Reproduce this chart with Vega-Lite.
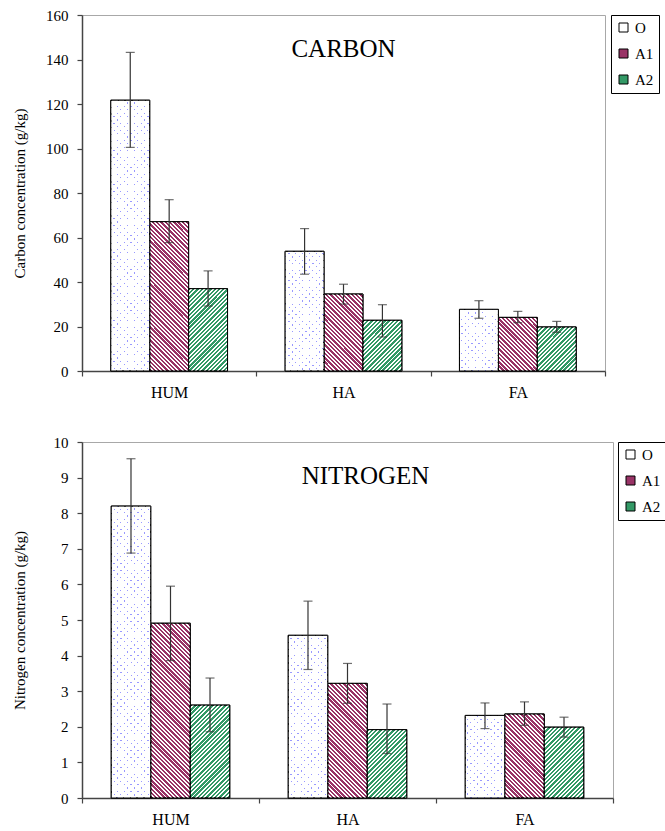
{
  "$schema": "https://vega.github.io/schema/vega-lite/v6.json",
  "background": "white",
  "padding": {"left": 11, "top": 7, "right": 0, "bottom": 0},
  "spacing": 33,
  "params": [
    {"name": "hatch", "value": [
      {"offset":0,"color":"#fff0"},{"offset":0.011,"color":"#fff0"},{"offset":0.011,"color":"#fff"},{"offset":0.02,"color":"#fff"},
      {"offset":0.02,"color":"#fff0"},{"offset":0.031,"color":"#fff0"},{"offset":0.031,"color":"#fff"},{"offset":0.04,"color":"#fff"},
      {"offset":0.04,"color":"#fff0"},{"offset":0.051,"color":"#fff0"},{"offset":0.051,"color":"#fff"},{"offset":0.06,"color":"#fff"},
      {"offset":0.06,"color":"#fff0"},{"offset":0.071,"color":"#fff0"},{"offset":0.071,"color":"#fff"},{"offset":0.08,"color":"#fff"},
      {"offset":0.08,"color":"#fff0"},{"offset":0.091,"color":"#fff0"},{"offset":0.091,"color":"#fff"},{"offset":0.1,"color":"#fff"},
      {"offset":0.1,"color":"#fff0"},{"offset":0.111,"color":"#fff0"},{"offset":0.111,"color":"#fff"},{"offset":0.12,"color":"#fff"},
      {"offset":0.12,"color":"#fff0"},{"offset":0.131,"color":"#fff0"},{"offset":0.131,"color":"#fff"},{"offset":0.14,"color":"#fff"},
      {"offset":0.14,"color":"#fff0"},{"offset":0.151,"color":"#fff0"},{"offset":0.151,"color":"#fff"},{"offset":0.16,"color":"#fff"},
      {"offset":0.16,"color":"#fff0"},{"offset":0.171,"color":"#fff0"},{"offset":0.171,"color":"#fff"},{"offset":0.18,"color":"#fff"},
      {"offset":0.18,"color":"#fff0"},{"offset":0.191,"color":"#fff0"},{"offset":0.191,"color":"#fff"},{"offset":0.2,"color":"#fff"},
      {"offset":0.2,"color":"#fff0"},{"offset":0.211,"color":"#fff0"},{"offset":0.211,"color":"#fff"},{"offset":0.22,"color":"#fff"},
      {"offset":0.22,"color":"#fff0"},{"offset":0.231,"color":"#fff0"},{"offset":0.231,"color":"#fff"},{"offset":0.24,"color":"#fff"},
      {"offset":0.24,"color":"#fff0"},{"offset":0.251,"color":"#fff0"},{"offset":0.251,"color":"#fff"},{"offset":0.26,"color":"#fff"},
      {"offset":0.26,"color":"#fff0"},{"offset":0.271,"color":"#fff0"},{"offset":0.271,"color":"#fff"},{"offset":0.28,"color":"#fff"},
      {"offset":0.28,"color":"#fff0"},{"offset":0.291,"color":"#fff0"},{"offset":0.291,"color":"#fff"},{"offset":0.3,"color":"#fff"},
      {"offset":0.3,"color":"#fff0"},{"offset":0.311,"color":"#fff0"},{"offset":0.311,"color":"#fff"},{"offset":0.32,"color":"#fff"},
      {"offset":0.32,"color":"#fff0"},{"offset":0.331,"color":"#fff0"},{"offset":0.331,"color":"#fff"},{"offset":0.34,"color":"#fff"},
      {"offset":0.34,"color":"#fff0"},{"offset":0.351,"color":"#fff0"},{"offset":0.351,"color":"#fff"},{"offset":0.36,"color":"#fff"},
      {"offset":0.36,"color":"#fff0"},{"offset":0.371,"color":"#fff0"},{"offset":0.371,"color":"#fff"},{"offset":0.38,"color":"#fff"},
      {"offset":0.38,"color":"#fff0"},{"offset":0.391,"color":"#fff0"},{"offset":0.391,"color":"#fff"},{"offset":0.4,"color":"#fff"},
      {"offset":0.4,"color":"#fff0"},{"offset":0.411,"color":"#fff0"},{"offset":0.411,"color":"#fff"},{"offset":0.42,"color":"#fff"},
      {"offset":0.42,"color":"#fff0"},{"offset":0.431,"color":"#fff0"},{"offset":0.431,"color":"#fff"},{"offset":0.44,"color":"#fff"},
      {"offset":0.44,"color":"#fff0"},{"offset":0.451,"color":"#fff0"},{"offset":0.451,"color":"#fff"},{"offset":0.46,"color":"#fff"},
      {"offset":0.46,"color":"#fff0"},{"offset":0.471,"color":"#fff0"},{"offset":0.471,"color":"#fff"},{"offset":0.48,"color":"#fff"},
      {"offset":0.48,"color":"#fff0"},{"offset":0.491,"color":"#fff0"},{"offset":0.491,"color":"#fff"},{"offset":0.5,"color":"#fff"},
      {"offset":0.5,"color":"#fff0"},{"offset":0.511,"color":"#fff0"},{"offset":0.511,"color":"#fff"},{"offset":0.52,"color":"#fff"},
      {"offset":0.52,"color":"#fff0"},{"offset":0.531,"color":"#fff0"},{"offset":0.531,"color":"#fff"},{"offset":0.54,"color":"#fff"},
      {"offset":0.54,"color":"#fff0"},{"offset":0.551,"color":"#fff0"},{"offset":0.551,"color":"#fff"},{"offset":0.56,"color":"#fff"},
      {"offset":0.56,"color":"#fff0"},{"offset":0.571,"color":"#fff0"},{"offset":0.571,"color":"#fff"},{"offset":0.58,"color":"#fff"},
      {"offset":0.58,"color":"#fff0"},{"offset":0.591,"color":"#fff0"},{"offset":0.591,"color":"#fff"},{"offset":0.6,"color":"#fff"},
      {"offset":0.6,"color":"#fff0"},{"offset":0.611,"color":"#fff0"},{"offset":0.611,"color":"#fff"},{"offset":0.62,"color":"#fff"},
      {"offset":0.62,"color":"#fff0"},{"offset":0.631,"color":"#fff0"},{"offset":0.631,"color":"#fff"},{"offset":0.64,"color":"#fff"},
      {"offset":0.64,"color":"#fff0"},{"offset":0.651,"color":"#fff0"},{"offset":0.651,"color":"#fff"},{"offset":0.66,"color":"#fff"},
      {"offset":0.66,"color":"#fff0"},{"offset":0.671,"color":"#fff0"},{"offset":0.671,"color":"#fff"},{"offset":0.68,"color":"#fff"},
      {"offset":0.68,"color":"#fff0"},{"offset":0.691,"color":"#fff0"},{"offset":0.691,"color":"#fff"},{"offset":0.7,"color":"#fff"},
      {"offset":0.7,"color":"#fff0"},{"offset":0.711,"color":"#fff0"},{"offset":0.711,"color":"#fff"},{"offset":0.72,"color":"#fff"},
      {"offset":0.72,"color":"#fff0"},{"offset":0.731,"color":"#fff0"},{"offset":0.731,"color":"#fff"},{"offset":0.74,"color":"#fff"},
      {"offset":0.74,"color":"#fff0"},{"offset":0.751,"color":"#fff0"},{"offset":0.751,"color":"#fff"},{"offset":0.76,"color":"#fff"},
      {"offset":0.76,"color":"#fff0"},{"offset":0.771,"color":"#fff0"},{"offset":0.771,"color":"#fff"},{"offset":0.78,"color":"#fff"},
      {"offset":0.78,"color":"#fff0"},{"offset":0.791,"color":"#fff0"},{"offset":0.791,"color":"#fff"},{"offset":0.8,"color":"#fff"},
      {"offset":0.8,"color":"#fff0"},{"offset":0.811,"color":"#fff0"},{"offset":0.811,"color":"#fff"},{"offset":0.82,"color":"#fff"},
      {"offset":0.82,"color":"#fff0"},{"offset":0.831,"color":"#fff0"},{"offset":0.831,"color":"#fff"},{"offset":0.84,"color":"#fff"},
      {"offset":0.84,"color":"#fff0"},{"offset":0.851,"color":"#fff0"},{"offset":0.851,"color":"#fff"},{"offset":0.86,"color":"#fff"},
      {"offset":0.86,"color":"#fff0"},{"offset":0.871,"color":"#fff0"},{"offset":0.871,"color":"#fff"},{"offset":0.88,"color":"#fff"},
      {"offset":0.88,"color":"#fff0"},{"offset":0.891,"color":"#fff0"},{"offset":0.891,"color":"#fff"},{"offset":0.9,"color":"#fff"},
      {"offset":0.9,"color":"#fff0"},{"offset":0.911,"color":"#fff0"},{"offset":0.911,"color":"#fff"},{"offset":0.92,"color":"#fff"},
      {"offset":0.92,"color":"#fff0"},{"offset":0.931,"color":"#fff0"},{"offset":0.931,"color":"#fff"},{"offset":0.94,"color":"#fff"},
      {"offset":0.94,"color":"#fff0"},{"offset":0.951,"color":"#fff0"},{"offset":0.951,"color":"#fff"},{"offset":0.96,"color":"#fff"},
      {"offset":0.96,"color":"#fff0"},{"offset":0.971,"color":"#fff0"},{"offset":0.971,"color":"#fff"},{"offset":0.98,"color":"#fff"},
      {"offset":0.98,"color":"#fff0"},{"offset":0.991,"color":"#fff0"},{"offset":0.991,"color":"#fff"},{"offset":1,"color":"#fff"}
    ]},
    {"name": "dotLines", "value": [
      {"offset":0,"color":"#fff0"},{"offset":0.0155,"color":"#fff0"},{"offset":0.0155,"color":"#99f"},{"offset":0.02,"color":"#99f"},
      {"offset":0.02,"color":"#fff0"},{"offset":0.0355,"color":"#fff0"},{"offset":0.0355,"color":"#99f"},{"offset":0.04,"color":"#99f"},
      {"offset":0.04,"color":"#fff0"},{"offset":0.0555,"color":"#fff0"},{"offset":0.0555,"color":"#99f"},{"offset":0.06,"color":"#99f"},
      {"offset":0.06,"color":"#fff0"},{"offset":0.0755,"color":"#fff0"},{"offset":0.0755,"color":"#99f"},{"offset":0.08,"color":"#99f"},
      {"offset":0.08,"color":"#fff0"},{"offset":0.0955,"color":"#fff0"},{"offset":0.0955,"color":"#99f"},{"offset":0.1,"color":"#99f"},
      {"offset":0.1,"color":"#fff0"},{"offset":0.1155,"color":"#fff0"},{"offset":0.1155,"color":"#99f"},{"offset":0.12,"color":"#99f"},
      {"offset":0.12,"color":"#fff0"},{"offset":0.1355,"color":"#fff0"},{"offset":0.1355,"color":"#99f"},{"offset":0.14,"color":"#99f"},
      {"offset":0.14,"color":"#fff0"},{"offset":0.1555,"color":"#fff0"},{"offset":0.1555,"color":"#99f"},{"offset":0.16,"color":"#99f"},
      {"offset":0.16,"color":"#fff0"},{"offset":0.1755,"color":"#fff0"},{"offset":0.1755,"color":"#99f"},{"offset":0.18,"color":"#99f"},
      {"offset":0.18,"color":"#fff0"},{"offset":0.1955,"color":"#fff0"},{"offset":0.1955,"color":"#99f"},{"offset":0.2,"color":"#99f"},
      {"offset":0.2,"color":"#fff0"},{"offset":0.2155,"color":"#fff0"},{"offset":0.2155,"color":"#99f"},{"offset":0.22,"color":"#99f"},
      {"offset":0.22,"color":"#fff0"},{"offset":0.2355,"color":"#fff0"},{"offset":0.2355,"color":"#99f"},{"offset":0.24,"color":"#99f"},
      {"offset":0.24,"color":"#fff0"},{"offset":0.2555,"color":"#fff0"},{"offset":0.2555,"color":"#99f"},{"offset":0.26,"color":"#99f"},
      {"offset":0.26,"color":"#fff0"},{"offset":0.2755,"color":"#fff0"},{"offset":0.2755,"color":"#99f"},{"offset":0.28,"color":"#99f"},
      {"offset":0.28,"color":"#fff0"},{"offset":0.2955,"color":"#fff0"},{"offset":0.2955,"color":"#99f"},{"offset":0.3,"color":"#99f"},
      {"offset":0.3,"color":"#fff0"},{"offset":0.3155,"color":"#fff0"},{"offset":0.3155,"color":"#99f"},{"offset":0.32,"color":"#99f"},
      {"offset":0.32,"color":"#fff0"},{"offset":0.3355,"color":"#fff0"},{"offset":0.3355,"color":"#99f"},{"offset":0.34,"color":"#99f"},
      {"offset":0.34,"color":"#fff0"},{"offset":0.3555,"color":"#fff0"},{"offset":0.3555,"color":"#99f"},{"offset":0.36,"color":"#99f"},
      {"offset":0.36,"color":"#fff0"},{"offset":0.3755,"color":"#fff0"},{"offset":0.3755,"color":"#99f"},{"offset":0.38,"color":"#99f"},
      {"offset":0.38,"color":"#fff0"},{"offset":0.3955,"color":"#fff0"},{"offset":0.3955,"color":"#99f"},{"offset":0.4,"color":"#99f"},
      {"offset":0.4,"color":"#fff0"},{"offset":0.4155,"color":"#fff0"},{"offset":0.4155,"color":"#99f"},{"offset":0.42,"color":"#99f"},
      {"offset":0.42,"color":"#fff0"},{"offset":0.4355,"color":"#fff0"},{"offset":0.4355,"color":"#99f"},{"offset":0.44,"color":"#99f"},
      {"offset":0.44,"color":"#fff0"},{"offset":0.4555,"color":"#fff0"},{"offset":0.4555,"color":"#99f"},{"offset":0.46,"color":"#99f"},
      {"offset":0.46,"color":"#fff0"},{"offset":0.4755,"color":"#fff0"},{"offset":0.4755,"color":"#99f"},{"offset":0.48,"color":"#99f"},
      {"offset":0.48,"color":"#fff0"},{"offset":0.4955,"color":"#fff0"},{"offset":0.4955,"color":"#99f"},{"offset":0.5,"color":"#99f"},
      {"offset":0.5,"color":"#fff0"},{"offset":0.5155,"color":"#fff0"},{"offset":0.5155,"color":"#99f"},{"offset":0.52,"color":"#99f"},
      {"offset":0.52,"color":"#fff0"},{"offset":0.5355,"color":"#fff0"},{"offset":0.5355,"color":"#99f"},{"offset":0.54,"color":"#99f"},
      {"offset":0.54,"color":"#fff0"},{"offset":0.5555,"color":"#fff0"},{"offset":0.5555,"color":"#99f"},{"offset":0.56,"color":"#99f"},
      {"offset":0.56,"color":"#fff0"},{"offset":0.5755,"color":"#fff0"},{"offset":0.5755,"color":"#99f"},{"offset":0.58,"color":"#99f"},
      {"offset":0.58,"color":"#fff0"},{"offset":0.5955,"color":"#fff0"},{"offset":0.5955,"color":"#99f"},{"offset":0.6,"color":"#99f"},
      {"offset":0.6,"color":"#fff0"},{"offset":0.6155,"color":"#fff0"},{"offset":0.6155,"color":"#99f"},{"offset":0.62,"color":"#99f"},
      {"offset":0.62,"color":"#fff0"},{"offset":0.6355,"color":"#fff0"},{"offset":0.6355,"color":"#99f"},{"offset":0.64,"color":"#99f"},
      {"offset":0.64,"color":"#fff0"},{"offset":0.6555,"color":"#fff0"},{"offset":0.6555,"color":"#99f"},{"offset":0.66,"color":"#99f"},
      {"offset":0.66,"color":"#fff0"},{"offset":0.6755,"color":"#fff0"},{"offset":0.6755,"color":"#99f"},{"offset":0.68,"color":"#99f"},
      {"offset":0.68,"color":"#fff0"},{"offset":0.6955,"color":"#fff0"},{"offset":0.6955,"color":"#99f"},{"offset":0.7,"color":"#99f"},
      {"offset":0.7,"color":"#fff0"},{"offset":0.7155,"color":"#fff0"},{"offset":0.7155,"color":"#99f"},{"offset":0.72,"color":"#99f"},
      {"offset":0.72,"color":"#fff0"},{"offset":0.7355,"color":"#fff0"},{"offset":0.7355,"color":"#99f"},{"offset":0.74,"color":"#99f"},
      {"offset":0.74,"color":"#fff0"},{"offset":0.7555,"color":"#fff0"},{"offset":0.7555,"color":"#99f"},{"offset":0.76,"color":"#99f"},
      {"offset":0.76,"color":"#fff0"},{"offset":0.7755,"color":"#fff0"},{"offset":0.7755,"color":"#99f"},{"offset":0.78,"color":"#99f"},
      {"offset":0.78,"color":"#fff0"},{"offset":0.7955,"color":"#fff0"},{"offset":0.7955,"color":"#99f"},{"offset":0.8,"color":"#99f"},
      {"offset":0.8,"color":"#fff0"},{"offset":0.8155,"color":"#fff0"},{"offset":0.8155,"color":"#99f"},{"offset":0.82,"color":"#99f"},
      {"offset":0.82,"color":"#fff0"},{"offset":0.8355,"color":"#fff0"},{"offset":0.8355,"color":"#99f"},{"offset":0.84,"color":"#99f"},
      {"offset":0.84,"color":"#fff0"},{"offset":0.8555,"color":"#fff0"},{"offset":0.8555,"color":"#99f"},{"offset":0.86,"color":"#99f"},
      {"offset":0.86,"color":"#fff0"},{"offset":0.8755,"color":"#fff0"},{"offset":0.8755,"color":"#99f"},{"offset":0.88,"color":"#99f"},
      {"offset":0.88,"color":"#fff0"},{"offset":0.8955,"color":"#fff0"},{"offset":0.8955,"color":"#99f"},{"offset":0.9,"color":"#99f"},
      {"offset":0.9,"color":"#fff0"},{"offset":0.9155,"color":"#fff0"},{"offset":0.9155,"color":"#99f"},{"offset":0.92,"color":"#99f"},
      {"offset":0.92,"color":"#fff0"},{"offset":0.9355,"color":"#fff0"},{"offset":0.9355,"color":"#99f"},{"offset":0.94,"color":"#99f"},
      {"offset":0.94,"color":"#fff0"},{"offset":0.9555,"color":"#fff0"},{"offset":0.9555,"color":"#99f"},{"offset":0.96,"color":"#99f"},
      {"offset":0.96,"color":"#fff0"},{"offset":0.9755,"color":"#fff0"},{"offset":0.9755,"color":"#99f"},{"offset":0.98,"color":"#99f"},
      {"offset":0.98,"color":"#fff0"},{"offset":0.9955,"color":"#fff0"},{"offset":0.9955,"color":"#99f"},{"offset":1,"color":"#99f"}
    ]},
    {"name": "dotMask", "value": [
      {"offset":0,"color":"#fff"},{"offset":0.0155,"color":"#fff"},{"offset":0.0155,"color":"#fff0"},{"offset":0.02,"color":"#fff0"},
      {"offset":0.02,"color":"#fff"},{"offset":0.0355,"color":"#fff"},{"offset":0.0355,"color":"#fff0"},{"offset":0.04,"color":"#fff0"},
      {"offset":0.04,"color":"#fff"},{"offset":0.0555,"color":"#fff"},{"offset":0.0555,"color":"#fff0"},{"offset":0.06,"color":"#fff0"},
      {"offset":0.06,"color":"#fff"},{"offset":0.0755,"color":"#fff"},{"offset":0.0755,"color":"#fff0"},{"offset":0.08,"color":"#fff0"},
      {"offset":0.08,"color":"#fff"},{"offset":0.0955,"color":"#fff"},{"offset":0.0955,"color":"#fff0"},{"offset":0.1,"color":"#fff0"},
      {"offset":0.1,"color":"#fff"},{"offset":0.1155,"color":"#fff"},{"offset":0.1155,"color":"#fff0"},{"offset":0.12,"color":"#fff0"},
      {"offset":0.12,"color":"#fff"},{"offset":0.1355,"color":"#fff"},{"offset":0.1355,"color":"#fff0"},{"offset":0.14,"color":"#fff0"},
      {"offset":0.14,"color":"#fff"},{"offset":0.1555,"color":"#fff"},{"offset":0.1555,"color":"#fff0"},{"offset":0.16,"color":"#fff0"},
      {"offset":0.16,"color":"#fff"},{"offset":0.1755,"color":"#fff"},{"offset":0.1755,"color":"#fff0"},{"offset":0.18,"color":"#fff0"},
      {"offset":0.18,"color":"#fff"},{"offset":0.1955,"color":"#fff"},{"offset":0.1955,"color":"#fff0"},{"offset":0.2,"color":"#fff0"},
      {"offset":0.2,"color":"#fff"},{"offset":0.2155,"color":"#fff"},{"offset":0.2155,"color":"#fff0"},{"offset":0.22,"color":"#fff0"},
      {"offset":0.22,"color":"#fff"},{"offset":0.2355,"color":"#fff"},{"offset":0.2355,"color":"#fff0"},{"offset":0.24,"color":"#fff0"},
      {"offset":0.24,"color":"#fff"},{"offset":0.2555,"color":"#fff"},{"offset":0.2555,"color":"#fff0"},{"offset":0.26,"color":"#fff0"},
      {"offset":0.26,"color":"#fff"},{"offset":0.2755,"color":"#fff"},{"offset":0.2755,"color":"#fff0"},{"offset":0.28,"color":"#fff0"},
      {"offset":0.28,"color":"#fff"},{"offset":0.2955,"color":"#fff"},{"offset":0.2955,"color":"#fff0"},{"offset":0.3,"color":"#fff0"},
      {"offset":0.3,"color":"#fff"},{"offset":0.3155,"color":"#fff"},{"offset":0.3155,"color":"#fff0"},{"offset":0.32,"color":"#fff0"},
      {"offset":0.32,"color":"#fff"},{"offset":0.3355,"color":"#fff"},{"offset":0.3355,"color":"#fff0"},{"offset":0.34,"color":"#fff0"},
      {"offset":0.34,"color":"#fff"},{"offset":0.3555,"color":"#fff"},{"offset":0.3555,"color":"#fff0"},{"offset":0.36,"color":"#fff0"},
      {"offset":0.36,"color":"#fff"},{"offset":0.3755,"color":"#fff"},{"offset":0.3755,"color":"#fff0"},{"offset":0.38,"color":"#fff0"},
      {"offset":0.38,"color":"#fff"},{"offset":0.3955,"color":"#fff"},{"offset":0.3955,"color":"#fff0"},{"offset":0.4,"color":"#fff0"},
      {"offset":0.4,"color":"#fff"},{"offset":0.4155,"color":"#fff"},{"offset":0.4155,"color":"#fff0"},{"offset":0.42,"color":"#fff0"},
      {"offset":0.42,"color":"#fff"},{"offset":0.4355,"color":"#fff"},{"offset":0.4355,"color":"#fff0"},{"offset":0.44,"color":"#fff0"},
      {"offset":0.44,"color":"#fff"},{"offset":0.4555,"color":"#fff"},{"offset":0.4555,"color":"#fff0"},{"offset":0.46,"color":"#fff0"},
      {"offset":0.46,"color":"#fff"},{"offset":0.4755,"color":"#fff"},{"offset":0.4755,"color":"#fff0"},{"offset":0.48,"color":"#fff0"},
      {"offset":0.48,"color":"#fff"},{"offset":0.4955,"color":"#fff"},{"offset":0.4955,"color":"#fff0"},{"offset":0.5,"color":"#fff0"},
      {"offset":0.5,"color":"#fff"},{"offset":0.5155,"color":"#fff"},{"offset":0.5155,"color":"#fff0"},{"offset":0.52,"color":"#fff0"},
      {"offset":0.52,"color":"#fff"},{"offset":0.5355,"color":"#fff"},{"offset":0.5355,"color":"#fff0"},{"offset":0.54,"color":"#fff0"},
      {"offset":0.54,"color":"#fff"},{"offset":0.5555,"color":"#fff"},{"offset":0.5555,"color":"#fff0"},{"offset":0.56,"color":"#fff0"},
      {"offset":0.56,"color":"#fff"},{"offset":0.5755,"color":"#fff"},{"offset":0.5755,"color":"#fff0"},{"offset":0.58,"color":"#fff0"},
      {"offset":0.58,"color":"#fff"},{"offset":0.5955,"color":"#fff"},{"offset":0.5955,"color":"#fff0"},{"offset":0.6,"color":"#fff0"},
      {"offset":0.6,"color":"#fff"},{"offset":0.6155,"color":"#fff"},{"offset":0.6155,"color":"#fff0"},{"offset":0.62,"color":"#fff0"},
      {"offset":0.62,"color":"#fff"},{"offset":0.6355,"color":"#fff"},{"offset":0.6355,"color":"#fff0"},{"offset":0.64,"color":"#fff0"},
      {"offset":0.64,"color":"#fff"},{"offset":0.6555,"color":"#fff"},{"offset":0.6555,"color":"#fff0"},{"offset":0.66,"color":"#fff0"},
      {"offset":0.66,"color":"#fff"},{"offset":0.6755,"color":"#fff"},{"offset":0.6755,"color":"#fff0"},{"offset":0.68,"color":"#fff0"},
      {"offset":0.68,"color":"#fff"},{"offset":0.6955,"color":"#fff"},{"offset":0.6955,"color":"#fff0"},{"offset":0.7,"color":"#fff0"},
      {"offset":0.7,"color":"#fff"},{"offset":0.7155,"color":"#fff"},{"offset":0.7155,"color":"#fff0"},{"offset":0.72,"color":"#fff0"},
      {"offset":0.72,"color":"#fff"},{"offset":0.7355,"color":"#fff"},{"offset":0.7355,"color":"#fff0"},{"offset":0.74,"color":"#fff0"},
      {"offset":0.74,"color":"#fff"},{"offset":0.7555,"color":"#fff"},{"offset":0.7555,"color":"#fff0"},{"offset":0.76,"color":"#fff0"},
      {"offset":0.76,"color":"#fff"},{"offset":0.7755,"color":"#fff"},{"offset":0.7755,"color":"#fff0"},{"offset":0.78,"color":"#fff0"},
      {"offset":0.78,"color":"#fff"},{"offset":0.7955,"color":"#fff"},{"offset":0.7955,"color":"#fff0"},{"offset":0.8,"color":"#fff0"},
      {"offset":0.8,"color":"#fff"},{"offset":0.8155,"color":"#fff"},{"offset":0.8155,"color":"#fff0"},{"offset":0.82,"color":"#fff0"},
      {"offset":0.82,"color":"#fff"},{"offset":0.8355,"color":"#fff"},{"offset":0.8355,"color":"#fff0"},{"offset":0.84,"color":"#fff0"},
      {"offset":0.84,"color":"#fff"},{"offset":0.8555,"color":"#fff"},{"offset":0.8555,"color":"#fff0"},{"offset":0.86,"color":"#fff0"},
      {"offset":0.86,"color":"#fff"},{"offset":0.8755,"color":"#fff"},{"offset":0.8755,"color":"#fff0"},{"offset":0.88,"color":"#fff0"},
      {"offset":0.88,"color":"#fff"},{"offset":0.8955,"color":"#fff"},{"offset":0.8955,"color":"#fff0"},{"offset":0.9,"color":"#fff0"},
      {"offset":0.9,"color":"#fff"},{"offset":0.9155,"color":"#fff"},{"offset":0.9155,"color":"#fff0"},{"offset":0.92,"color":"#fff0"},
      {"offset":0.92,"color":"#fff"},{"offset":0.9355,"color":"#fff"},{"offset":0.9355,"color":"#fff0"},{"offset":0.94,"color":"#fff0"},
      {"offset":0.94,"color":"#fff"},{"offset":0.9555,"color":"#fff"},{"offset":0.9555,"color":"#fff0"},{"offset":0.96,"color":"#fff0"},
      {"offset":0.96,"color":"#fff"},{"offset":0.9755,"color":"#fff"},{"offset":0.9755,"color":"#fff0"},{"offset":0.98,"color":"#fff0"},
      {"offset":0.98,"color":"#fff"},{"offset":0.9955,"color":"#fff"},{"offset":0.9955,"color":"#fff0"},{"offset":1,"color":"#fff0"}
    ]},
    {"name": "legA1", "value": [
      {"offset":0,"color":"#936"},{"offset":0.14,"color":"#936"},{"offset":0.14,"color":"#fff"},{"offset":0.25,"color":"#fff"},
      {"offset":0.25,"color":"#936"},{"offset":0.39,"color":"#936"},{"offset":0.39,"color":"#fff"},{"offset":0.5,"color":"#fff"},
      {"offset":0.5,"color":"#936"},{"offset":0.64,"color":"#936"},{"offset":0.64,"color":"#fff"},{"offset":0.75,"color":"#fff"},
      {"offset":0.75,"color":"#936"},{"offset":0.89,"color":"#936"},{"offset":0.89,"color":"#fff"},{"offset":1,"color":"#fff"}
    ]},
    {"name": "legA2", "value": [
      {"offset":0,"color":"#396"},{"offset":0.14,"color":"#396"},{"offset":0.14,"color":"#fff"},{"offset":0.25,"color":"#fff"},
      {"offset":0.25,"color":"#396"},{"offset":0.39,"color":"#396"},{"offset":0.39,"color":"#fff"},{"offset":0.5,"color":"#fff"},
      {"offset":0.5,"color":"#396"},{"offset":0.64,"color":"#396"},{"offset":0.64,"color":"#fff"},{"offset":0.75,"color":"#fff"},
      {"offset":0.75,"color":"#396"},{"offset":0.89,"color":"#396"},{"offset":0.89,"color":"#fff"},{"offset":1,"color":"#fff"}
    ]}
  ],
  "datasets": {
    "carbon": [
      {"fraction": "HUM", "series": "O", "value": 121.7, "lo": 100.5, "hi": 143.2},
      {"fraction": "HUM", "series": "A1", "value": 67.1, "lo": 57.7, "hi": 77.0},
      {"fraction": "HUM", "series": "A2", "value": 37.0, "lo": 29.2, "hi": 45.0},
      {"fraction": "HA", "series": "O", "value": 53.8, "lo": 43.5, "hi": 64.0},
      {"fraction": "HA", "series": "A1", "value": 34.6, "lo": 30.1, "hi": 39.0},
      {"fraction": "HA", "series": "A2", "value": 22.8, "lo": 15.3, "hi": 29.8},
      {"fraction": "FA", "series": "O", "value": 27.7, "lo": 23.7, "hi": 31.6},
      {"fraction": "FA", "series": "A1", "value": 24.1, "lo": 21.7, "hi": 26.8},
      {"fraction": "FA", "series": "A2", "value": 19.8, "lo": 17.4, "hi": 22.3}
    ],
    "nitrogen": [
      {"fraction": "HUM", "series": "O", "value": 8.2, "lo": 6.88, "hi": 9.53},
      {"fraction": "HUM", "series": "A1", "value": 4.91, "lo": 3.86, "hi": 5.95},
      {"fraction": "HUM", "series": "A2", "value": 2.61, "lo": 1.86, "hi": 3.37},
      {"fraction": "HA", "series": "O", "value": 4.57, "lo": 3.61, "hi": 5.53},
      {"fraction": "HA", "series": "A1", "value": 3.22, "lo": 2.66, "hi": 3.78},
      {"fraction": "HA", "series": "A2", "value": 1.92, "lo": 1.25, "hi": 2.64},
      {"fraction": "FA", "series": "O", "value": 2.32, "lo": 1.95, "hi": 2.67},
      {"fraction": "FA", "series": "A1", "value": 2.36, "lo": 2.04, "hi": 2.7},
      {"fraction": "FA", "series": "A2", "value": 1.99, "lo": 1.71, "hi": 2.27}
    ]
  },
  "config": {
    "font": "Liberation Serif",
    "view": {"stroke": "#a8a8a8", "strokeWidth": 1},
    "axis": {
      "labelFont": "Liberation Serif", "titleFont": "Liberation Serif",
      "labelColor": "black", "titleColor": "black", "titleFontWeight": "normal",
      "domainColor": "#444", "tickColor": "#444", "domainWidth": 1.5, "tickWidth": 1.2,
      "grid": false, "tickSize": 5
    },
    "axisX": {"labelAngle": 0, "labelFontSize": 16, "labelPadding": 8, "tickBand": "extent"},
    "axisY": {"labelFontSize": 15, "labelPadding": 9, "titleFontSize": 15, "titleX": -63, "titleY": 178,
      "titleAngle": -90, "titleBaseline": "middle", "titleAlign": "center"},
    "legend": {
      "labelFont": "Liberation Serif", "labelFontSize": 15, "labelColor": "black",
      "strokeColor": "black", "padding": 5, "symbolType": "square", "symbolSize": 81,
      "symbolStrokeColor": "black", "symbolStrokeWidth": 1, "rowPadding": 10, "labelOffset": 4
    }
  },
  "resolve": {
    "scale": {"x": "independent", "y": "independent", "xOffset": "independent", "fill": "independent"},
    "axis": {"x": "independent", "y": "independent"},
    "legend": {"fill": "independent"}
  },
  "vconcat": [
    {
      "width": 523,
      "height": 356,
      "layer": [
        {
          "data": {"name": "carbon"},
          "encoding": {
            "x": {"field": "fraction", "type": "nominal", "sort": ["HUM", "HA", "FA"], "title": null, "scale": {"paddingInner": 0, "paddingOuter": 0}},
            "xOffset": {"field": "series", "type": "nominal", "sort": ["O", "A1", "A2"], "scale": {"paddingInner": 0, "paddingOuter": 0.74}}
          },
          "layer": [
            {
              "mark": {"type": "bar", "stroke": "black", "strokeWidth": 1},
              "encoding": {
                "y": {"field": "value", "type": "quantitative", "title": "Carbon concentration (g/kg)",
                  "scale": {"domain": [0, 160], "nice": false},
                  "axis": {"values": [0, 20, 40, 60, 80, 100, 120, 140, 160]}},
                "fill": {"field": "series", "type": "nominal", "sort": ["O", "A1", "A2"],
                  "scale": {"domain": ["O", "A1", "A2"], "range": ["#ffffff", "#993366", "#339966"]},
                  "legend": {"title": null, "offset": 6,
                    "encode": {"symbols": {"update": {
                      "fill": {"signal": "datum.value === 'A1' ? {gradient: 'linear', x1: 0, y1: 1, x2: 1, y2: 0, stops: legA1} : datum.value === 'A2' ? {gradient: 'linear', x1: 0, y1: 0, x2: 1, y2: 1, stops: legA2} : '#ffffff'"},
                      "stroke": {"value": "black"}, "strokeWidth": {"value": 1}, "opacity": {"value": 1}}}}}}
              }
            },
            {
              "transform": [{"filter": "datum.series !== 'O'"}],
              "mark": {"type": "bar", "stroke": "black", "strokeWidth": 1,
                "fill": {"expr": "{gradient: 'linear', x1: 0, y1: datum.series === 'A1' ? 1 : 0, x2: 215 * 39 / (1521 + pow(datum.value * 2.225, 2)), y2: datum.series === 'A1' ? 1 - 215 * datum.value * 2.225 / (1521 + pow(datum.value * 2.225, 2)) : 215 * datum.value * 2.225 / (1521 + pow(datum.value * 2.225, 2)), stops: hatch}"}},
              "encoding": {"y": {"field": "value", "type": "quantitative", "title": "Carbon concentration (g/kg)",
                "axis": {"values": [0, 20, 40, 60, 80, 100, 120, 140, 160]}}}
            },
            {
              "transform": [{"filter": "datum.series === 'O'"}],
              "mark": {"type": "bar", "strokeWidth": 0,
                "fill": {"expr": "{gradient: 'linear', x1: 0, y1: 0, x2: 340 * 39 / (1521 + pow(datum.value * 2.225, 2)), y2: 340 * datum.value * 2.225 / (1521 + pow(datum.value * 2.225, 2)), stops: dotLines}"}},
              "encoding": {"y": {"field": "value", "type": "quantitative", "title": "Carbon concentration (g/kg)",
                "axis": {"values": [0, 20, 40, 60, 80, 100, 120, 140, 160]}}}
            },
            {
              "transform": [{"filter": "datum.series === 'O'"}],
              "mark": {"type": "bar", "stroke": "black", "strokeWidth": 1,
                "fill": {"expr": "{gradient: 'linear', x1: 0, y1: 1, x2: 340 * 39 / (1521 + pow(datum.value * 2.225, 2)), y2: 1 - 340 * datum.value * 2.225 / (1521 + pow(datum.value * 2.225, 2)), stops: dotMask}"}},
              "encoding": {"y": {"field": "value", "type": "quantitative", "title": "Carbon concentration (g/kg)",
                "axis": {"values": [0, 20, 40, 60, 80, 100, 120, 140, 160]}}}
            },
            {
              "mark": {"type": "rule", "color": "#333", "strokeWidth": 1.2},
              "encoding": {"y": {"field": "lo", "type": "quantitative", "title": "Carbon concentration (g/kg)",
                "axis": {"values": [0, 20, 40, 60, 80, 100, 120, 140, 160]}}, "y2": {"field": "hi"}}
            },
            {
              "mark": {"type": "tick", "color": "#333", "size": 9, "thickness": 1.2},
              "encoding": {"y": {"field": "lo", "type": "quantitative", "title": "Carbon concentration (g/kg)",
                "axis": {"values": [0, 20, 40, 60, 80, 100, 120, 140, 160]}}}
            },
            {
              "mark": {"type": "tick", "color": "#333", "size": 9, "thickness": 1.2},
              "encoding": {"y": {"field": "hi", "type": "quantitative", "title": "Carbon concentration (g/kg)",
                "axis": {"values": [0, 20, 40, 60, 80, 100, 120, 140, 160]}}}
            }
          ]
        },
        {
          "data": {"values": [{"heading": "CARBON"}]},
          "mark": {"type": "text", "font": "Liberation Serif", "fontSize": 25, "color": "black", "align": "center", "baseline": "alphabetic"},
          "encoding": {
            "x": {"datum": "HA", "type": "nominal", "title": null},
            "y": {"datum": 141, "type": "quantitative", "title": "Carbon concentration (g/kg)",
              "axis": {"values": [0, 20, 40, 60, 80, 100, 120, 140, 160]}},
            "text": {"field": "heading", "type": "nominal"}
          }
        }
      ]
    },
    {
      "width": 531,
      "height": 356,
      "layer": [
        {
          "data": {"name": "nitrogen"},
          "encoding": {
            "x": {"field": "fraction", "type": "nominal", "sort": ["HUM", "HA", "FA"], "title": null, "scale": {"paddingInner": 0, "paddingOuter": 0}},
            "xOffset": {"field": "series", "type": "nominal", "sort": ["O", "A1", "A2"], "scale": {"paddingInner": 0, "paddingOuter": 0.74}}
          },
          "layer": [
            {
              "mark": {"type": "bar", "stroke": "black", "strokeWidth": 1},
              "encoding": {
                "y": {"field": "value", "type": "quantitative", "title": "Nitrogen concentration (g/kg)",
                  "scale": {"domain": [0, 10], "nice": false},
                  "axis": {"values": [0, 1, 2, 3, 4, 5, 6, 7, 8, 9, 10]}},
                "fill": {"field": "series", "type": "nominal", "sort": ["O", "A1", "A2"],
                  "scale": {"domain": ["O", "A1", "A2"], "range": ["#ffffff", "#993366", "#339966"]},
                  "legend": {"title": null, "offset": 5,
                    "encode": {"symbols": {"update": {
                      "fill": {"signal": "datum.value === 'A1' ? {gradient: 'linear', x1: 0, y1: 1, x2: 1, y2: 0, stops: legA1} : datum.value === 'A2' ? {gradient: 'linear', x1: 0, y1: 0, x2: 1, y2: 1, stops: legA2} : '#ffffff'"},
                      "stroke": {"value": "black"}, "strokeWidth": {"value": 1}, "opacity": {"value": 1}}}}}}
              }
            },
            {
              "transform": [{"filter": "datum.series !== 'O'"}],
              "mark": {"type": "bar", "stroke": "black", "strokeWidth": 1,
                "fill": {"expr": "{gradient: 'linear', x1: 0, y1: datum.series === 'A1' ? 1 : 0, x2: 215 * 39.5 / (1560.25 + pow(datum.value * 35.6, 2)), y2: datum.series === 'A1' ? 1 - 215 * datum.value * 35.6 / (1560.25 + pow(datum.value * 35.6, 2)) : 215 * datum.value * 35.6 / (1560.25 + pow(datum.value * 35.6, 2)), stops: hatch}"}},
              "encoding": {"y": {"field": "value", "type": "quantitative", "title": "Nitrogen concentration (g/kg)",
                "axis": {"values": [0, 1, 2, 3, 4, 5, 6, 7, 8, 9, 10]}}}
            },
            {
              "transform": [{"filter": "datum.series === 'O'"}],
              "mark": {"type": "bar", "strokeWidth": 0,
                "fill": {"expr": "{gradient: 'linear', x1: 0, y1: 0, x2: 340 * 39.5 / (1560.25 + pow(datum.value * 35.6, 2)), y2: 340 * datum.value * 35.6 / (1560.25 + pow(datum.value * 35.6, 2)), stops: dotLines}"}},
              "encoding": {"y": {"field": "value", "type": "quantitative", "title": "Nitrogen concentration (g/kg)",
                "axis": {"values": [0, 1, 2, 3, 4, 5, 6, 7, 8, 9, 10]}}}
            },
            {
              "transform": [{"filter": "datum.series === 'O'"}],
              "mark": {"type": "bar", "stroke": "black", "strokeWidth": 1,
                "fill": {"expr": "{gradient: 'linear', x1: 0, y1: 1, x2: 340 * 39.5 / (1560.25 + pow(datum.value * 35.6, 2)), y2: 1 - 340 * datum.value * 35.6 / (1560.25 + pow(datum.value * 35.6, 2)), stops: dotMask}"}},
              "encoding": {"y": {"field": "value", "type": "quantitative", "title": "Nitrogen concentration (g/kg)",
                "axis": {"values": [0, 1, 2, 3, 4, 5, 6, 7, 8, 9, 10]}}}
            },
            {
              "mark": {"type": "rule", "color": "#333", "strokeWidth": 1.2},
              "encoding": {"y": {"field": "lo", "type": "quantitative", "title": "Nitrogen concentration (g/kg)",
                "axis": {"values": [0, 1, 2, 3, 4, 5, 6, 7, 8, 9, 10]}}, "y2": {"field": "hi"}}
            },
            {
              "mark": {"type": "tick", "color": "#333", "size": 9, "thickness": 1.2},
              "encoding": {"y": {"field": "lo", "type": "quantitative", "title": "Nitrogen concentration (g/kg)",
                "axis": {"values": [0, 1, 2, 3, 4, 5, 6, 7, 8, 9, 10]}}}
            },
            {
              "mark": {"type": "tick", "color": "#333", "size": 9, "thickness": 1.2},
              "encoding": {"y": {"field": "hi", "type": "quantitative", "title": "Nitrogen concentration (g/kg)",
                "axis": {"values": [0, 1, 2, 3, 4, 5, 6, 7, 8, 9, 10]}}}
            }
          ]
        },
        {
          "data": {"values": [{"heading": "NITROGEN"}]},
          "mark": {"type": "text", "font": "Liberation Serif", "fontSize": 25, "color": "black", "align": "center", "baseline": "alphabetic", "dx": 18},
          "encoding": {
            "x": {"datum": "HA", "type": "nominal", "title": null},
            "y": {"datum": 8.82, "type": "quantitative", "title": "Nitrogen concentration (g/kg)",
              "axis": {"values": [0, 1, 2, 3, 4, 5, 6, 7, 8, 9, 10]}},
            "text": {"field": "heading", "type": "nominal"}
          }
        }
      ]
    }
  ]
}
